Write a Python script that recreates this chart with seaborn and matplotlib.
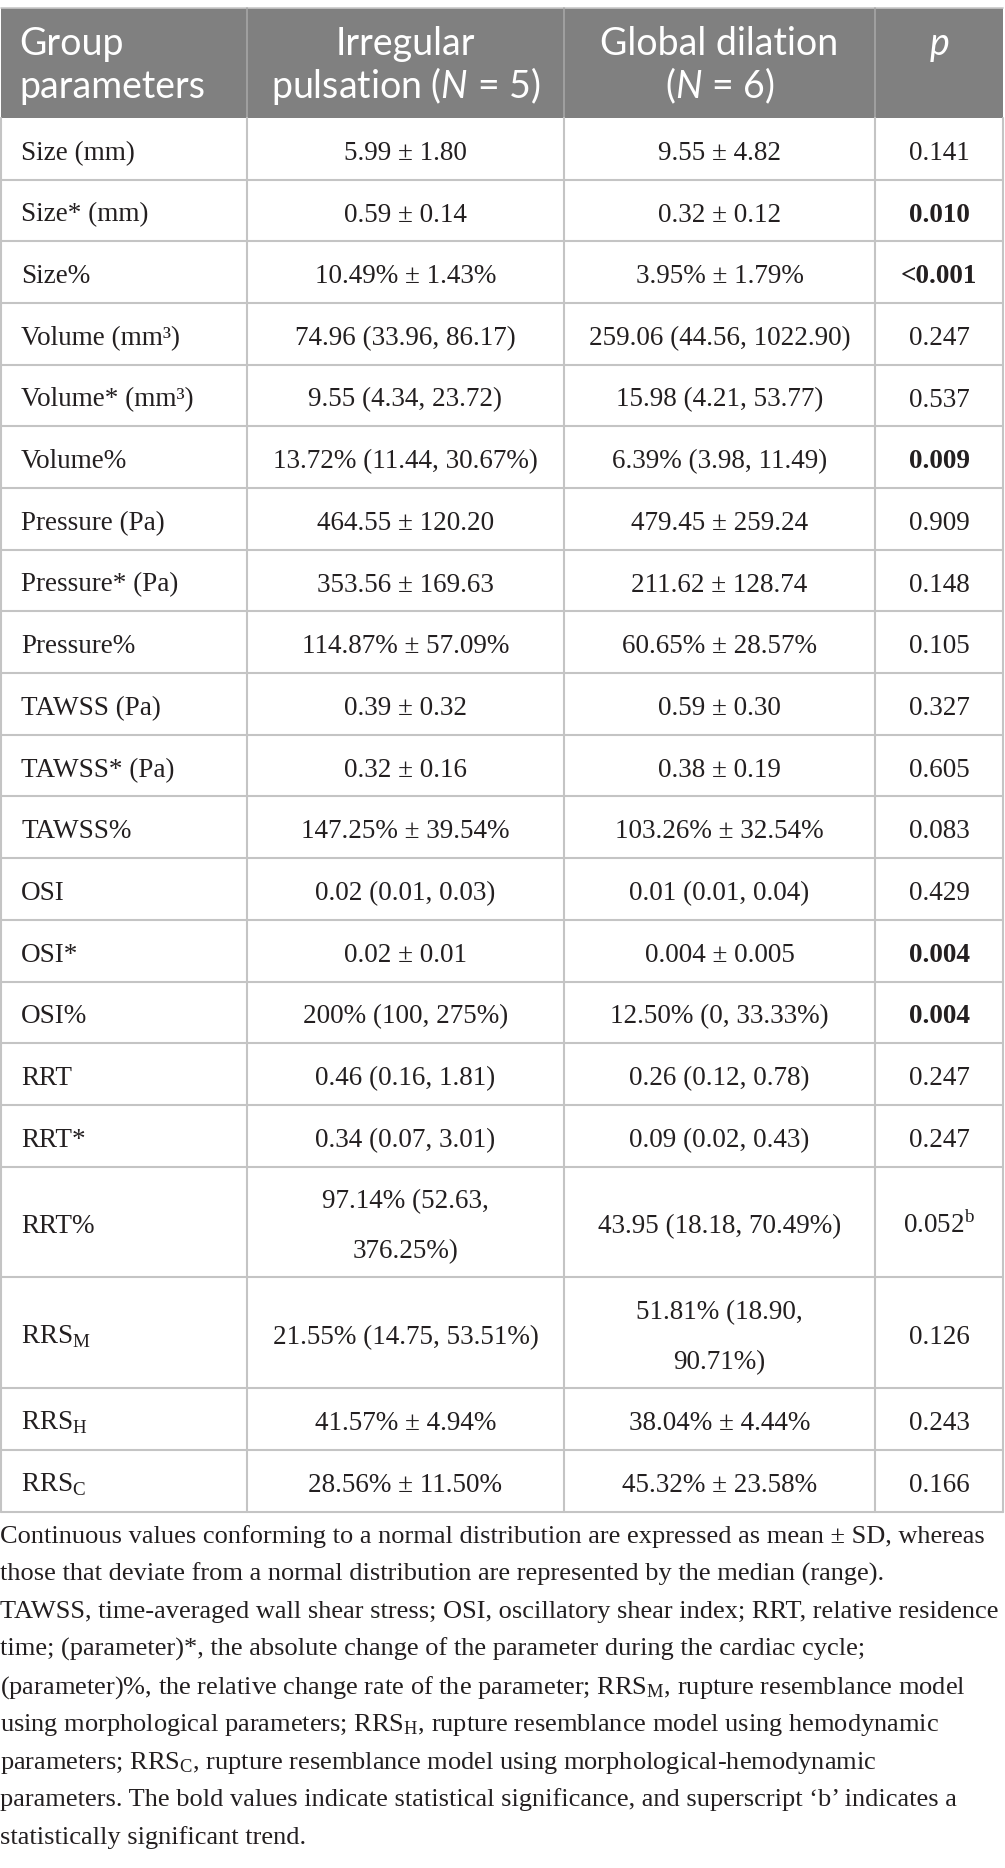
import matplotlib
matplotlib.use("Agg")
import matplotlib.pyplot as plt
from matplotlib.patches import Rectangle
import seaborn as sns

# ---------------- data ----------------
header_param = ["Group", "parameters"]
header_irr = ["Irregular", r"pulsation ($\mathit{N}$ = 5)"]
header_glob = ["Global dilation", r"($\mathit{N}$ = 6)"]
header_p = [r"$\mathit{p}$"]

params = ["Size (mm)", "Size* (mm)", "Size%", "Volume (mm³)", "Volume* (mm³)", "Volume%",
          "Pressure (Pa)", "Pressure* (Pa)", "Pressure%", "TAWSS (Pa)", "TAWSS* (Pa)", "TAWSS%",
          "OSI", "OSI*", "OSI%", "RRT", "RRT*", "RRT%",
          r"RRS$_{\mathrm{M}}$", r"RRS$_{\mathrm{H}}$", r"RRS$_{\mathrm{C}}$"]
irregular = ["5.99 ± 1.80", "0.59 ± 0.14", "10.49% ± 1.43%", "74.96 (33.96, 86.17)",
             "9.55 (4.34, 23.72)", "13.72% (11.44, 30.67%)", "464.55 ± 120.20", "353.56 ± 169.63",
             "114.87% ± 57.09%", "0.39 ± 0.32", "0.32 ± 0.16", "147.25% ± 39.54%",
             "0.02 (0.01, 0.03)", "0.02 ± 0.01", "200% (100, 275%)", "0.46 (0.16, 1.81)",
             "0.34 (0.07, 3.01)", "97.14% (52.63,\n376.25%)", "21.55% (14.75, 53.51%)",
             "41.57% ± 4.94%", "28.56% ± 11.50%"]
global_dil = ["9.55 ± 4.82", "0.32 ± 0.12", "3.95% ± 1.79%", "259.06 (44.56, 1022.90)",
              "15.98 (4.21, 53.77)", "6.39% (3.98, 11.49)", "479.45 ± 259.24", "211.62 ± 128.74",
              "60.65% ± 28.57%", "0.59 ± 0.30", "0.38 ± 0.19", "103.26% ± 32.54%",
              "0.01 (0.01, 0.04)", "0.004 ± 0.005", "12.50% (0, 33.33%)", "0.26 (0.12, 0.78)",
              "0.09 (0.02, 0.43)", "43.95 (18.18, 70.49%)", "51.81% (18.90,\n90.71%)",
              "38.04% ± 4.44%", "45.32% ± 23.58%"]
p_values = ["0.141", "0.010", "<0.001", "0.247", "0.537", "0.009", "0.909", "0.148", "0.105",
            "0.327", "0.605", "0.083", "0.429", "0.004", "0.004", "0.247", "0.247",
            r"0.052$^{\mathrm{b}}$", "0.126", "0.243", "0.166"]
p_bold = [False, True, True, False, False, True, False, False, False,
          False, False, False, False, True, True, False, False,
          False, False, False, False]

footnote_lines = [
    "Continuous values conforming to a normal distribution are expressed as mean ± SD, whereas",
    "those that deviate from a normal distribution are represented by the median (range).",
    "TAWSS, time-averaged wall shear stress; OSI, oscillatory shear index; RRT, relative residence",
    "time; (parameter)*, the absolute change of the parameter during the cardiac cycle;",
    r"(parameter)%, the relative change rate of the parameter; RRS$_{\mathrm{M}}$, rupture resemblance model",
    r"using morphological parameters; RRS$_{\mathrm{H}}$, rupture resemblance model using hemodynamic",
    r"parameters; RRS$_{\mathrm{C}}$, rupture resemblance model using morphological-hemodynamic",
    "parameters. The bold values indicate statistical significance, and superscript ‘b’ indicates a",
    "statistically significant trend.",
]

# ---------------- style ----------------
sns.set_theme(style="white")
SERIF = ["Liberation Serif", "DejaVu Serif"]
SANS = ["Lato", "Open Sans", "DejaVu Sans"]
plt.rcParams["font.family"] = SERIF
plt.rcParams["mathtext.fontset"] = "custom"
plt.rcParams["mathtext.rm"] = "Liberation Serif"
plt.rcParams["mathtext.it"] = "Lato:italic"
plt.rcParams["mathtext.bf"] = "Liberation Serif:bold"

TXT = "#231f20"
HEAD_BG = "#808080"
LINE = "#c4c4c4"
HEAD_LINE = "#a6a6a6"

W, H = 1005, 1868
fig = plt.figure(figsize=(W / 100, H / 100), dpi=100)
ax = fig.add_axes([0, 0, 1, 1])
ax.set_xlim(0, W)
ax.set_ylim(H, 0)
ax.axis("off")

col_x = [1, 247, 564, 875, 1003]
head_top, head_bot = 8, 118
row_h1, line_gap = 61.68, 50.0
body_fs = 19.5
head_fs = 27

# header
ax.add_patch(Rectangle((col_x[0], head_top), col_x[-1] - col_x[0], head_bot - head_top,
                       facecolor=HEAD_BG, edgecolor="none", zorder=1))
ax.plot([col_x[0], col_x[-1]], [head_top, head_top], color="#c8c8c8", lw=1.2, zorder=2)
for x in col_x[1:-1]:
    ax.plot([x, x], [head_top, head_bot], color=HEAD_LINE, lw=1.2, zorder=2)
head_base = [55, 98]
for i, t in enumerate(header_param):
    ax.text(19, head_base[i], t, ha="left", va="baseline", fontsize=head_fs,
            family=SANS, color="white", zorder=3)
for cells, ci in ((header_irr, 1), (header_glob, 2), (header_p, 3)):
    cx = (col_x[ci] + col_x[ci + 1]) / 2
    for i, t in enumerate(cells):
        ax.text(cx, head_base[i], t, ha="center", va="baseline", fontsize=head_fs,
                family=SANS, color="white", zorder=3)

# body
y = head_bot
for r in range(len(params)):
    nlines = max(irregular[r].count("\n"), global_dil[r].count("\n")) + 1
    h = row_h1 if nlines == 1 else row_h1 + (row_h1 - 12.5)
    cy = y + h / 2
    cells = [params[r], irregular[r], global_dil[r], p_values[r]]
    for ci, txt in enumerate(cells):
        parts = txt.split("\n")
        n = len(parts)
        for li, part in enumerate(parts):
            by = cy + 11 + (li - (n - 1) / 2) * line_gap
            if ci == 0:
                ax.text(21, by, part, ha="left", va="baseline", fontsize=body_fs, color=TXT)
            else:
                cx = (col_x[ci] + col_x[ci + 1]) / 2
                wt = "bold" if (ci == 3 and p_bold[r]) else "normal"
                ax.text(cx, by, part, ha="center", va="baseline", fontsize=body_fs,
                        color=TXT, fontweight=wt)
    y += h
    ax.plot([col_x[0], col_x[-1]], [y, y], color=LINE, lw=1.5, zorder=2)
table_bot = y
for x in col_x:
    ax.plot([x, x], [head_bot, table_bot], color=LINE, lw=1.5, zorder=2)

# footnote: size chosen so the widest line fits the table width
fig.canvas.draw()
renderer = fig.canvas.get_renderer()
widest = 0
for line in footnote_lines:
    probe = ax.text(0, 0, line, fontsize=20, va="baseline")
    widest = max(widest, probe.get_window_extent(renderer).width)
    probe.remove()
foot_fs = 20 * 999 / widest
for i, line in enumerate(footnote_lines):
    ax.text(0, 1543 + i * 37.6, line, ha="left", va="baseline", fontsize=foot_fs, color=TXT)

fig.savefig("out.png", dpi=100, facecolor="white")
